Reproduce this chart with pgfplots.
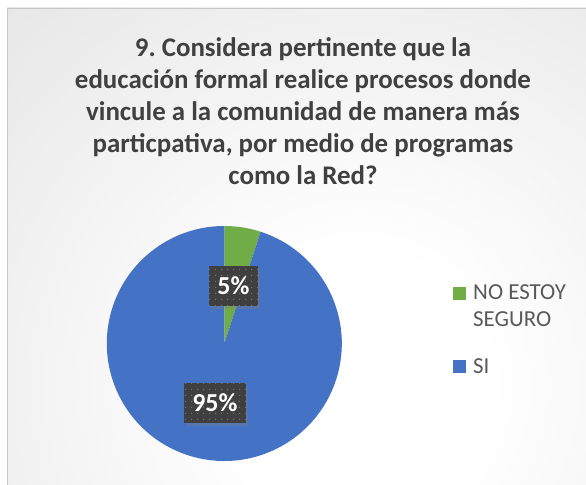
\documentclass[border=0pt]{standalone}
\usepackage{pgfplots}
\pgfplotsset{compat=1.18}
\usepackage{pgfplotstable}
\usepackage{fontspec}
\setmainfont{Carlito}
\frenchspacing
\usetikzlibrary{patterns.meta,shadows}
\definecolor{siblue}{HTML}{4472C4}
\definecolor{nogreen}{HTML}{70AD47}
\definecolor{titlegray}{HTML}{404040}
\definecolor{boxgray}{HTML}{3F3F3F}
\definecolor{leggray}{HTML}{595959}

% respuestas (porcentaje)
\pgfplotstableread[col sep=comma]{
label,value
NO ESTOY SEGURO,5
SI,95
}\piedata

\pgfdeclareradialshading{fondo}{\pgfpoint{0bp}{0bp}}{color(0bp)=(white); color(6bp)=(white); color(50bp)=(black!23)}

\begin{document}
\begin{tikzpicture}[x=1bp,y=1bp]
\useasboundingbox (0,0) rectangle (586,485);
\fill[white] (0,0) rectangle (586,485);
\begin{scope}
\clip (7,0) rectangle (586,477);
\shade[shading=fondo] (360-540,100-540) rectangle (360+540,100+540);
\end{scope}
\draw[black!22, line width=1bp] (7.5,0) -- (7.5,476.5) -- (586,476.5);

% brillo suave alrededor del pastel
\foreach \k in {14,12,...,2} {\fill[white, opacity=0.1] (224.3,141.5) circle[radius=117.5+\k];}

% angulos de los sectores, en el sentido del reloj desde las 12
\pgfplotstablegetelem{0}{value}\of\piedata \pgfmathsetmacro{\va}{\pgfplotsretval}
\pgfplotstablegetelem{1}{value}\of\piedata \pgfmathsetmacro{\vb}{\pgfplotsretval}
\pgfmathsetmacro{\aA}{90}
\pgfmathsetmacro{\aB}{90-3.6*\va}
\pgfmathsetmacro{\aC}{\aB-3.6*\vb}
\pgfmathsetmacro{\mA}{(\aA+\aB)/2}
\pgfmathsetmacro{\mB}{(\aB+\aC)/2}

\tikzset{lbl/.style={fill=boxgray, text=white, inner xsep=8.5bp, minimum height=40bp,
  font=\bfseries\fontsize{26}{30}\selectfont,
  drop shadow={opacity=0.35, shadow xshift=2bp, shadow yshift=-3bp},
  postaction={pattern={Dots[distance=6bp, radius=0.8bp]}, pattern color=white!30!boxgray}}}

\begin{axis}[hide axis, scale only axis, x=1bp, y=1bp,
  xmin=-117.5, xmax=117.5, ymin=-117.5, ymax=117.5,
  anchor=center, at={(224.3,141.5)}, clip=false]
\fill[nogreen] (axis cs:0,0) -- ++(\aA:117.5bp) arc[start angle=\aA, end angle=\aB, radius=117.5bp] -- cycle;
\fill[siblue] (axis cs:0,0) -- ++(\aB:117.5bp) arc[start angle=\aB, end angle=\aC, radius=117.5bp] -- cycle;
\node[lbl] at (axis cs:{58.5*cos(\mA)},{58.5*sin(\mA)}) {\pgfmathprintnumber[assume math mode=true]{\va}\%};
\node[lbl] at (axis cs:{60*cos(\mB)},{60*sin(\mB)}) {\pgfmathprintnumber[assume math mode=true]{\vb}\%};
\end{axis}

% titulo
\node[align=center, text=titlegray, font=\bfseries\fontsize{27}{32}\selectfont]
  at (303,374) {9. Considera pertinente que la\\educación formal realice procesos donde\\vincule a la comunidad de manera más\\particpativa, por medio de programas\\como la Red?};

% leyenda
\fill[nogreen] (453,185) rectangle ++(13,13);
\node[anchor=base west, inner sep=0pt, text=leggray, font=\fontsize{23}{28}\selectfont] at (473,185) {NO ESTOY};
\node[anchor=base west, inner sep=0pt, text=leggray, font=\fontsize{23}{28}\selectfont] at (473,158) {SEGURO};
\fill[siblue] (453,112) rectangle ++(13,13);
\node[anchor=base west, inner sep=0pt, text=leggray, font=\fontsize{23}{28}\selectfont] at (473,111) {SI};
\end{tikzpicture}
\end{document}
